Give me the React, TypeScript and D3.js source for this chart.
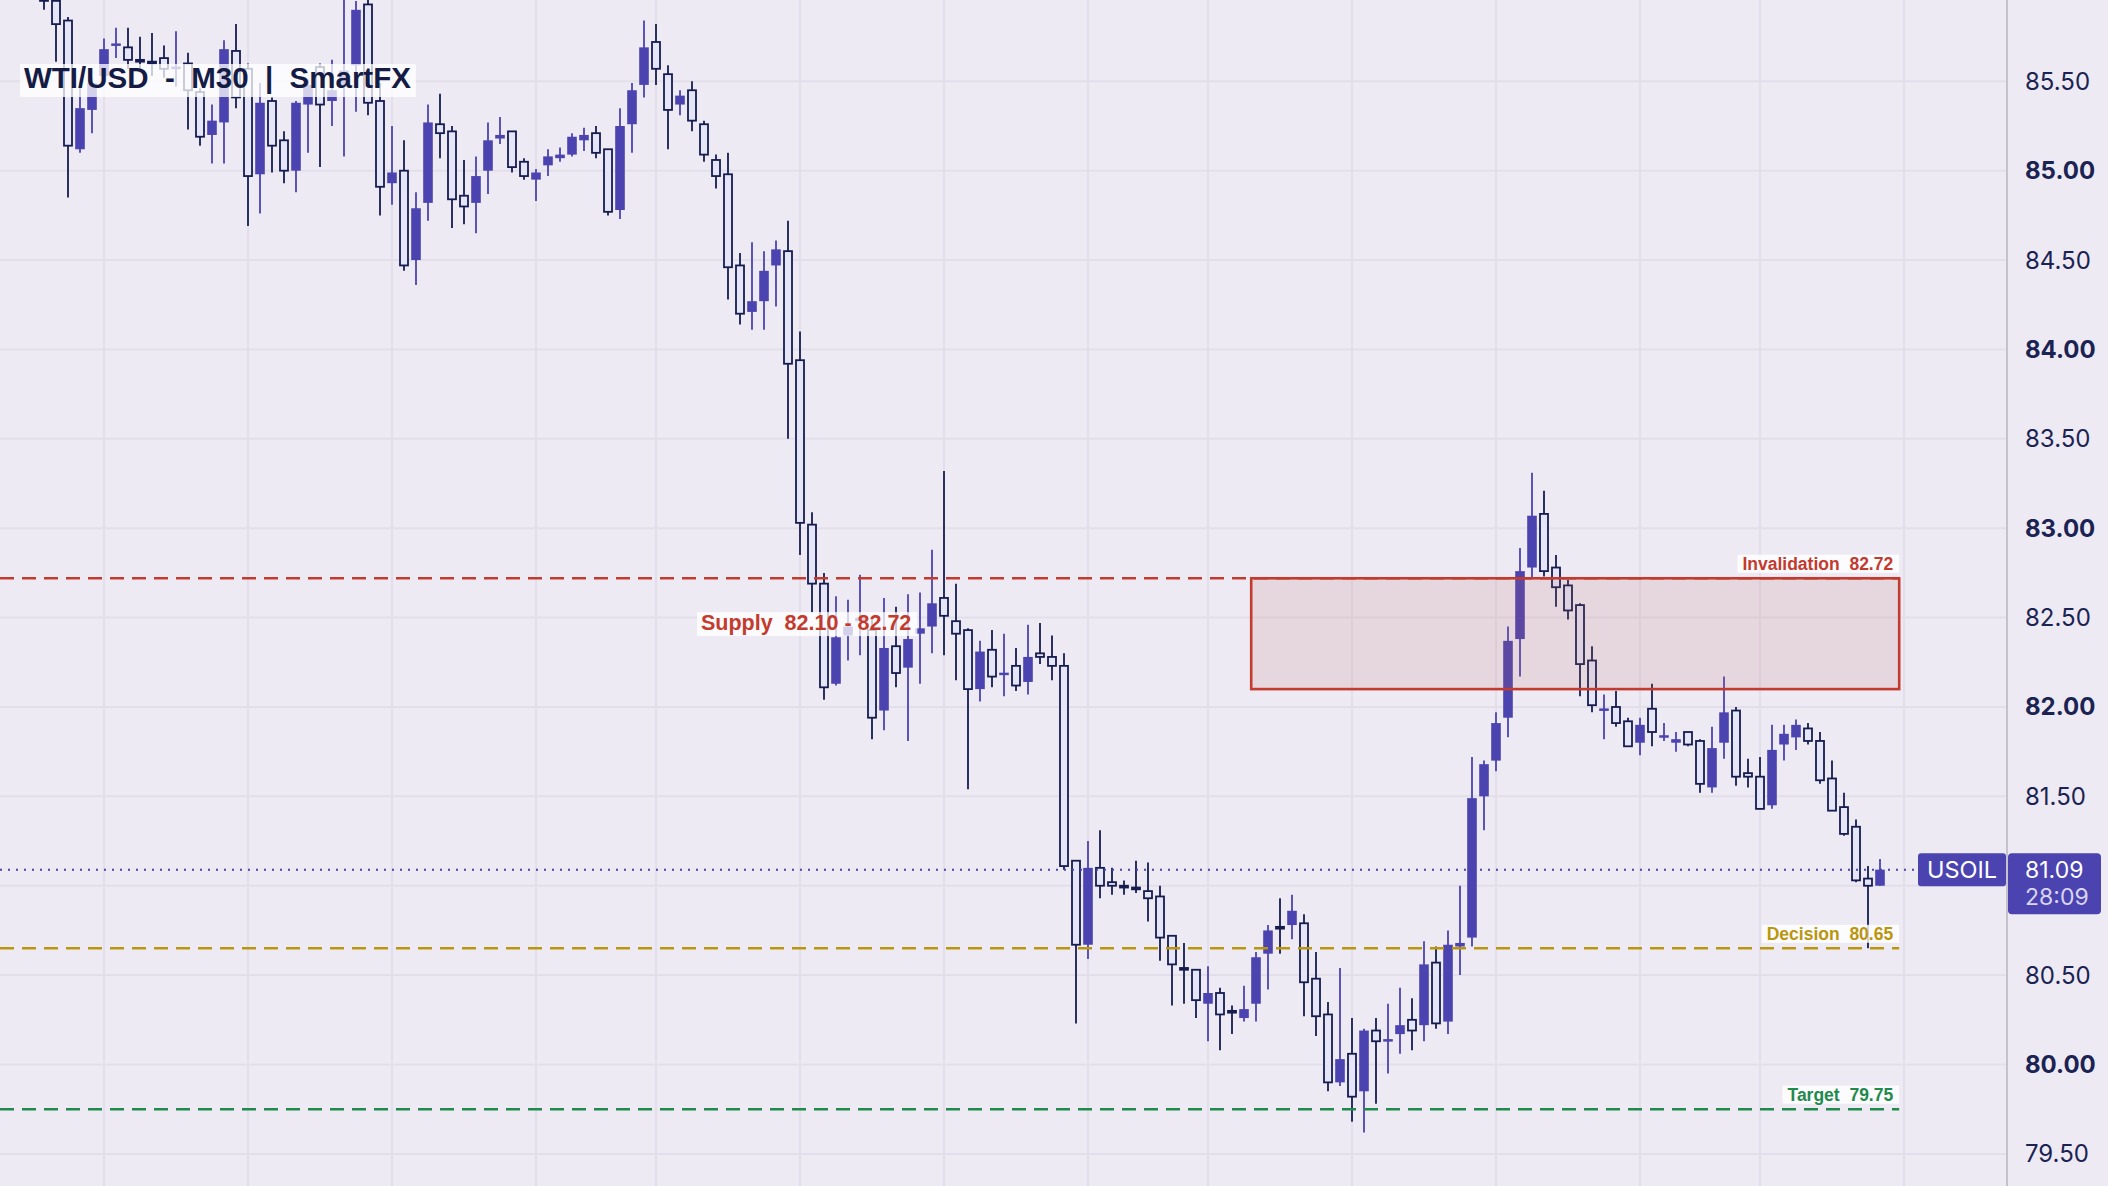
import { scaleLinear } from "d3";
import { useEffect, useLayoutEffect, useRef, useState } from "react";

// WTI/USD M30 candles, oldest first
const opens = [
  86.05, 85.95, 85.84, 85.12, 85.34, 85.53, 85.7, 85.69, 85.62, 85.61,
  85.63, 85.57, 85.6, 85.44, 85.2, 85.27, 85.67, 85.57, 84.98, 85.39,
  85.17, 85.0, 85.37, 85.58, 85.39, 85.47, 85.59, 85.93, 85.39, 84.93,
  85.0, 84.5, 84.82, 85.26, 85.22, 84.86, 84.82, 85.0, 85.18, 85.22,
  85.05, 84.95, 85.03, 85.07, 85.09, 85.17, 85.21, 85.12, 84.78, 85.26,
  85.48, 85.72, 85.54, 85.37, 85.45, 85.26, 85.06, 84.98, 84.47, 84.21,
  84.27, 84.47, 84.55, 83.94, 83.02, 82.69, 82.13, 82.4, 82.48, 82.43,
  81.98, 82.34, 82.22, 82.41, 82.45, 82.61, 82.48, 82.43, 82.1, 82.32,
  82.18, 82.23, 82.14, 82.3, 82.28, 82.23, 81.14, 80.67, 81.1, 81.02,
  81.0, 80.99, 80.97, 80.94, 80.72, 80.54, 80.53, 80.34, 80.4, 80.3,
  80.26, 80.34, 80.62, 80.77, 80.78, 80.79, 80.48, 80.28, 79.9, 80.06,
  79.85, 80.19, 80.13, 80.17, 80.25, 80.22, 80.57, 80.24, 80.66, 80.71,
  81.5, 81.7, 81.94, 82.38, 82.78, 83.08, 82.78, 82.68, 82.57, 82.26,
  81.98, 82.0, 81.92, 81.8, 81.99, 81.83, 81.8, 81.86, 81.81, 81.55,
  81.8, 81.98, 81.63, 81.61, 81.45, 81.79, 81.83, 81.88, 81.81, 81.6,
  81.44, 81.33, 81.04, 81.0
];
const highs = [
  86.12, 86.02, 85.86, 85.5, 85.52, 85.74, 85.8, 85.8, 85.75, 85.77,
  85.7, 85.78, 85.66, 85.46, 85.37, 85.73, 85.82, 85.6, 85.49, 85.41,
  85.22, 85.39, 85.51, 85.6, 85.62, 86.05, 85.95, 86.0, 85.49, 85.25,
  85.17, 84.88, 85.37, 85.43, 85.25, 85.06, 85.08, 85.27, 85.3, 85.22,
  85.07, 85.01, 85.12, 85.13, 85.21, 85.24, 85.25, 85.12, 85.35, 85.49,
  85.84, 85.82, 85.59, 85.45, 85.5, 85.28, 85.09, 85.1, 84.54, 84.6,
  84.55, 84.61, 84.72, 84.1, 83.09, 82.75, 82.62, 82.6, 82.74, 82.49,
  82.61, 82.56, 82.63, 82.64, 82.88, 83.32, 82.69, 82.44, 82.37, 82.43,
  82.41, 82.33, 82.46, 82.47, 82.4, 82.3, 81.14, 81.25, 81.31, 81.1,
  81.03, 81.14, 81.13, 81.0, 80.72, 80.68, 80.53, 80.55, 80.43, 80.33,
  80.44, 80.63, 80.78, 80.93, 80.95, 80.84, 80.63, 80.35, 80.54, 80.26,
  80.2, 80.26, 80.34, 80.43, 80.37, 80.69, 80.66, 80.75, 81.0, 81.72,
  81.7, 81.97, 82.45, 82.89, 83.31, 83.21, 82.85, 82.71, 82.58, 82.34,
  82.07, 82.09, 81.94, 81.94, 82.13, 81.91, 81.86, 81.86, 81.82, 81.89,
  82.17, 82.0, 81.71, 81.72, 81.9, 81.9, 81.93, 81.91, 81.86, 81.7,
  81.52, 81.37, 81.11, 81.15
];
const lows = [
  85.9, 85.61, 84.85, 85.1, 85.21, 85.48, 85.63, 85.57, 85.55, 85.53,
  85.52, 85.47, 85.23, 85.14, 85.04, 85.04, 85.35, 84.69, 84.76, 84.99,
  84.93, 84.88, 85.1, 85.02, 85.25, 85.08, 85.33, 85.31, 84.75, 84.81,
  84.44, 84.36, 84.72, 85.07, 84.68, 84.7, 84.65, 84.87, 85.15, 84.99,
  84.95, 84.83, 84.97, 85.05, 85.08, 85.11, 85.07, 84.75, 84.73, 85.1,
  85.41, 85.48, 85.12, 85.31, 85.22, 85.05, 84.9, 84.28, 84.14, 84.11,
  84.11, 84.24, 83.5, 82.85, 82.53, 82.04, 82.12, 82.26, 82.29, 81.82,
  81.87, 82.11, 81.81, 82.13, 82.3, 82.29, 82.15, 81.54, 82.03, 82.11,
  82.06, 82.09, 82.07, 82.24, 82.15, 81.09, 80.23, 80.59, 80.93, 80.95,
  80.95, 80.96, 80.8, 80.58, 80.33, 80.34, 80.26, 80.13, 80.08, 80.17,
  80.24, 80.24, 80.42, 80.62, 80.7, 80.27, 80.16, 79.85, 79.88, 79.68,
  79.62, 79.78, 79.95, 80.06, 80.08, 80.13, 80.2, 80.17, 80.5, 80.66,
  81.31, 81.64, 81.83, 82.17, 82.72, 82.73, 82.56, 82.49, 82.06, 81.97,
  81.82, 81.89, 81.78, 81.73, 81.78, 81.81, 81.75, 81.78, 81.52, 81.52,
  81.71, 81.56, 81.55, 81.43, 81.43, 81.7, 81.76, 81.79, 81.57, 81.42,
  81.28, 81.02, 80.65, 81.0
];
const closes = [
  85.95, 85.82, 85.14, 85.35, 85.49, 85.68, 85.71, 85.62, 85.61, 85.6,
  85.57, 85.58, 85.45, 85.19, 85.28, 85.68, 85.41, 84.97, 85.38, 85.14,
  85.0, 85.38, 85.48, 85.37, 85.45, 85.56, 85.9, 85.38, 84.91, 84.99,
  84.47, 84.79, 85.27, 85.21, 84.84, 84.8, 84.97, 85.17, 85.2, 85.02,
  84.97, 84.99, 85.08, 85.09, 85.19, 85.2, 85.1, 84.77, 85.25, 85.45,
  85.69, 85.57, 85.34, 85.42, 85.28, 85.09, 84.97, 84.46, 84.2, 84.27,
  84.44, 84.56, 83.92, 83.03, 82.69, 82.11, 82.39, 82.45, 82.5, 81.94,
  82.33, 82.19, 82.38, 82.44, 82.58, 82.51, 82.41, 82.1, 82.31, 82.17,
  82.19, 82.12, 82.28, 82.28, 82.23, 81.11, 80.67, 81.1, 81.0, 81.0,
  80.99, 80.98, 80.93, 80.71, 80.56, 80.53, 80.36, 80.4, 80.28, 80.29,
  80.31, 80.6, 80.75, 80.76, 80.86, 80.46, 80.27, 79.9, 80.03, 79.82,
  80.19, 80.13, 80.14, 80.22, 80.19, 80.56, 80.23, 80.67, 80.68, 81.49,
  81.68, 81.91, 82.37, 82.76, 83.07, 82.76, 82.67, 82.54, 82.24, 82.01,
  81.99, 81.91, 81.78, 81.9, 81.86, 81.84, 81.82, 81.79, 81.57, 81.77,
  81.97, 81.61, 81.61, 81.43, 81.76, 81.85, 81.9, 81.81, 81.59, 81.42,
  81.29, 81.03, 81.0, 81.09
];

const priceTicks = [79.5, 80, 80.5, 81, 81.5, 82, 82.5, 83, 83.5, 84, 84.5, 85, 85.5, 86];
// candle indices that carry a vertical grid line (session ticks)
const gridCandles = [5, 17, 29, 41, 51, 63, 75, 87, 97, 109, 121, 133, 143, 155];

const invalidationLevel = 82.72;
const supplyLow = 82.1;
const decisionLevel = 80.65;
const targetLevel = 79.75;
const lastPrice = 81.09;
const countdown = "28:09";
const symbol = "USOIL";
const chartTitle = "WTI/USD  -  M30  |  SmartFX";
const zoneStart = 100.6;
const zoneEnd = 154.6;

const width = 2108;
const height = 1186;
const plotRight = 2006;
const candleStep = 12;
const firstCenter = 44;

const colors = {
  bg: "#eeeaf4",
  grid: "#e3dfea",
  axisLine: "#c6c2cc",
  bull: "#4b44b0",
  bearFill: "#e6e5f7",
  bearStroke: "#151d50",
  text: "#1b2352",
  red: "#c33a2e",
  gold: "#b9960e",
  green: "#1f8a4c"
};

const labelFont = "'Liberation Sans', Arial, Helvetica, sans-serif";
const axisFont = "Inter, 'Noto Sans', sans-serif";

type LabelTagProps = {
  x: number;
  y: number;
  text: string;
  color: string;
  size: number;
  anchor: "start" | "end";
  padLeft: number;
  padRight: number;
  above: number;
  below: number;
  boxOpacity: number;
};

function LabelTag({
  x,
  y,
  text,
  color,
  size,
  anchor,
  padLeft,
  padRight,
  above,
  below,
  boxOpacity
}: LabelTagProps) {
  const ref = useRef<SVGTextElement | null>(null);
  const [textWidth, setTextWidth] = useState(0);

  useLayoutEffect(() => {
    if (ref.current) {
      setTextWidth(ref.current.getComputedTextLength());
    }
  }, [text, size]);

  const left = anchor === "end" ? x - textWidth : x;
  return (
    <g>
      <rect
        x={left - padLeft}
        y={y - above}
        width={textWidth + padLeft + padRight}
        height={above + below}
        fill="#ffffff"
        fillOpacity={boxOpacity}
      />
      <text
        ref={ref}
        x={x}
        y={y}
        textAnchor={anchor}
        fill={color}
        fontSize={size}
        fontWeight={700}
        fontFamily={labelFont}
        style={{ whiteSpace: "pre" }}
      >
        {text}
      </text>
    </g>
  );
}

function App() {
  useEffect(() => {
    document.body.style.margin = "0";
    document.body.style.overflow = "hidden";
  }, []);

  const xScale = scaleLinear()
    .domain([-firstCenter / candleStep, (plotRight - firstCenter) / candleStep])
    .range([0, plotRight]);
  const yScale = scaleLinear().domain([80, 85]).range([1064.5, 170.7]);

  const zoneX0 = xScale(zoneStart);
  const zoneX1 = xScale(zoneEnd);
  const tagRight = zoneX1 - 6;

  const levels = [
    { value: invalidationLevel, color: colors.red, label: `Invalidation  ${invalidationLevel.toFixed(2)}` },
    { value: decisionLevel, color: colors.gold, label: `Decision  ${decisionLevel.toFixed(2)}` },
    { value: targetLevel, color: colors.green, label: `Target  ${targetLevel.toFixed(2)}` }
  ];

  const lastY = yScale(lastPrice);

  return (
    <svg
      width={width}
      height={height}
      viewBox={`0 0 ${width} ${height}`}
      style={{ position: "absolute", left: 0, top: 0, display: "block" }}
    >
      <defs>
        <clipPath id="plot-clip">
          <rect x={0} y={0} width={plotRight} height={height} />
        </clipPath>
      </defs>
      <rect x={0} y={0} width={width} height={height} fill={colors.bg} />

      {/* grid */}
      <g>
        {priceTicks.map((p) => (
          <line
            key={`h-${p}`}
            x1={0}
            x2={plotRight}
            y1={yScale(p)}
            y2={yScale(p)}
            stroke={colors.grid}
            strokeWidth={2}
          />
        ))}
        {gridCandles.map((i) => (
          <line
            key={`v-${i}`}
            x1={xScale(i)}
            x2={xScale(i)}
            y1={0}
            y2={height}
            stroke={colors.grid}
            strokeWidth={2}
          />
        ))}
      </g>

      <g clipPath="url(#plot-clip)">
        {/* candles */}
        {closes.map((c, i) => {
          const o = opens[i];
          const h = highs[i];
          const l = lows[i];
          const up = c >= o;
          const cx = xScale(i);
          const top = yScale(Math.max(o, c));
          const bottom = yScale(Math.min(o, c));
          if (up) {
            const bh = Math.max(bottom - top, 2.5);
            return (
              <g key={`c-${i}`}>
                <line x1={cx} x2={cx} y1={yScale(h)} y2={yScale(l)} stroke={colors.bull} strokeWidth={1.8} />
                <rect x={cx - 4.8} y={top - (bh - (bottom - top)) / 2} width={9.6} height={bh} fill={colors.bull} />
              </g>
            );
          }
          const bh = Math.max(bottom - top, 1.5);
          return (
            <g key={`c-${i}`}>
              <line x1={cx} x2={cx} y1={yScale(h)} y2={yScale(l)} stroke={colors.bearStroke} strokeWidth={1.8} />
              <rect
                x={cx - 4}
                y={top}
                width={8}
                height={bh}
                fill={colors.bearFill}
                stroke={colors.bearStroke}
                strokeWidth={1.8}
              />
            </g>
          );
        })}

        {/* supply zone */}
        <rect
          x={zoneX0}
          y={yScale(invalidationLevel)}
          width={zoneX1 - zoneX0}
          height={yScale(supplyLow) - yScale(invalidationLevel)}
          fill="rgb(191,101,97)"
          fillOpacity={0.15}
          stroke={colors.red}
          strokeWidth={2.6}
        />

        {/* level lines */}
        {levels.map((lv) => (
          <line
            key={`lv-${lv.value}`}
            x1={0}
            x2={zoneX1}
            y1={yScale(lv.value)}
            y2={yScale(lv.value)}
            stroke={lv.color}
            strokeWidth={2.4}
            strokeDasharray="14 8"
          />
        ))}

        {/* last price line */}
        <line
          x1={0}
          x2={1918}
          y1={lastY}
          y2={lastY}
          stroke={colors.bull}
          strokeWidth={2}
          strokeDasharray="2 6"
        />
      </g>

      {levels.map((lv) => (
        <LabelTag
          key={`tag-${lv.value}`}
          x={tagRight}
          y={yScale(lv.value) - 8.5}
          text={lv.label}
          color={lv.color}
          size={17.5}
          anchor="end"
          padLeft={5}
          padRight={6}
          above={15}
          below={3}
          boxOpacity={0.8}
        />
      ))}

      <LabelTag
        x={xScale(54.75)}
        y={yScale(82.43)}
        text={`Supply  ${supplyLow.toFixed(2)} - ${invalidationLevel.toFixed(2)}`}
        color={colors.red}
        size={21.5}
        anchor="start"
        padLeft={4}
        padRight={6}
        above={18}
        below={6}
        boxOpacity={0.75}
      />

      <LabelTag
        x={24}
        y={88}
        text={chartTitle}
        color="#141c46"
        size={29.5}
        anchor="start"
        padLeft={4}
        padRight={5}
        above={24}
        below={9}
        boxOpacity={0.75}
      />

      {/* right price axis */}
      <line x1={plotRight + 1} x2={plotRight + 1} y1={0} y2={height} stroke={colors.axisLine} strokeWidth={2} />
      {priceTicks.map((p) => (
        <text
          key={`t-${p}`}
          x={2025}
          y={yScale(p)}
          dominantBaseline="central"
          fill={colors.text}
          fontSize={24}
          fontWeight={Number.isInteger(p) ? 700 : 400}
          fontFamily={axisFont}
        >
          {p.toFixed(2)}
        </text>
      ))}

      {/* symbol and price tags */}
      <rect x={1918} y={lastY - 16.5} width={88} height={33} rx={3} fill={colors.bull} />
      <text
        x={1962}
        y={lastY + 8.5}
        textAnchor="middle"
        fill="#ffffff"
        fontSize={23.5}
        fontFamily={axisFont}
      >
        {symbol}
      </text>
      <rect x={2008} y={lastY - 16.5} width={93} height={61} rx={4} fill={colors.bull} />
      <text x={2025} y={lastY + 8.5} fill="#ffffff" fontSize={23} fontFamily={axisFont}>
        {lastPrice.toFixed(2)}
      </text>
      <text x={2025} y={lastY + 35} fill="#d9d5f2" fontSize={23} fontFamily={axisFont}>
        {countdown}
      </text>
    </svg>
  );
}

export default App;
